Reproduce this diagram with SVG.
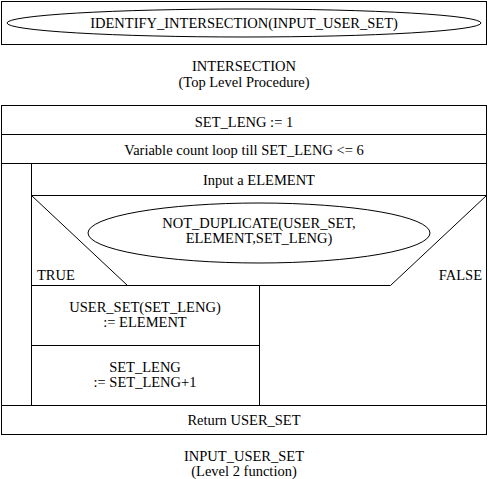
<svg xmlns="http://www.w3.org/2000/svg" width="489" height="479" viewBox="0 0 489 479">
<style>
.b{fill:none;stroke:#000;stroke-width:1}
text{font-family:'Liberation Serif','Times New Roman',serif;font-size:14.5px;fill:#000;text-anchor:middle}
.s{text-anchor:start}
.e{text-anchor:end}
</style>
<rect width="489" height="479" fill="#fff"/>
<g id="top">
<rect class="b" x="1.5" y="1.5" width="485" height="43"/>
<ellipse class="b" cx="244" cy="23" rx="237" ry="14"/>
<text x="244" y="28">IDENTIFY_INTERSECTION(INPUT_USER_SET)</text>
</g>
<g id="top-caption">
<text x="244" y="71">INTERSECTION</text>
<text x="244" y="87">(Top Level Procedure)</text>
</g>
<g id="main">
<rect class="b" x="1.5" y="105.5" width="485" height="329"/>
<line class="b" x1="1.5" y1="134.5" x2="486.5" y2="134.5"/>
<text x="244" y="127">SET_LENG := 1</text>
<line class="b" x1="1.5" y1="163.5" x2="486.5" y2="163.5"/>
<text x="244" y="155">Variable count loop till SET_LENG &lt;= 6</text>
<line class="b" x1="31.5" y1="163.5" x2="31.5" y2="405.5"/>
<line class="b" x1="31.5" y1="195.5" x2="486.5" y2="195.5"/>
<text x="259" y="185">Input a ELEMENT</text>
</g>
<g id="decision">
<line class="b" x1="31.5" y1="195.5" x2="127.5" y2="285.5"/>
<line class="b" x1="486.5" y1="195.5" x2="390.5" y2="285.5"/>
<line class="b" x1="31.5" y1="285.5" x2="390.5" y2="285.5"/>
<ellipse class="b" cx="259" cy="233" rx="171" ry="30"/>
<text x="259" y="228">NOT_DUPLICATE(USER_SET,</text>
<text x="259" y="243">ELEMENT,SET_LENG)</text>
<text class="s" x="37" y="280">TRUE</text>
<text class="e" x="482" y="280">FALSE</text>
</g>
<g id="true-branch">
<line class="b" x1="259.5" y1="285.5" x2="259.5" y2="405.5"/>
<line class="b" x1="31.5" y1="345.5" x2="259.5" y2="345.5"/>
<text x="145" y="312">USER_SET(SET_LENG)</text>
<text x="145" y="327">:= ELEMENT</text>
<text x="145" y="372">SET_LENG</text>
<text x="145" y="387">:= SET_LENG+1</text>
</g>
<g id="return">
<line class="b" x1="1.5" y1="405.5" x2="486.5" y2="405.5"/>
<text x="244" y="425">Return USER_SET</text>
</g>
<g id="bottom-caption">
<text x="244" y="461">INPUT_USER_SET</text>
<text x="244" y="476">(Level 2 function)</text>
</g>
</svg>
